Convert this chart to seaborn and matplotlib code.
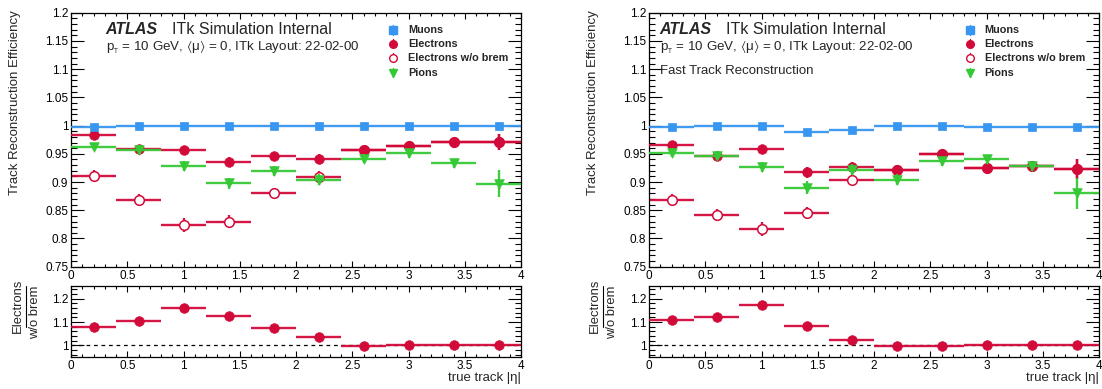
import numpy as np
import pandas as pd
import matplotlib
matplotlib.use("Agg")
import matplotlib.pyplot as plt
import seaborn as sns
from matplotlib.ticker import MultipleLocator, FormatStrFormatter
from matplotlib.lines import Line2D

# ---------------- data ----------------
eta_centers = [0.2, 0.6, 1.0, 1.4, 1.8, 2.2, 2.6, 3.0, 3.4, 3.8]
eta_halfwidth = [0.2] * 10

# left: default reconstruction
muons_L = [0.998, 1.0, 1.0, 1.0, 1.0, 1.0, 1.0, 1.0, 1.0, 1.0]
muons_L_err = [0.001] * 10
ele_L = [0.984, 0.959, 0.956, 0.936, 0.946, 0.941, 0.957, 0.963, 0.971, 0.971]
ele_L_err = [0.004, 0.007, 0.008, 0.008, 0.008, 0.008, 0.006, 0.006, 0.006, 0.014]
nob_L = [0.911, 0.868, 0.824, 0.830, 0.880, 0.909, 0.957, 0.963, 0.971, 0.971]
nob_L_err = [0.010, 0.011, 0.012, 0.012, 0.010, 0.010, 0.007, 0.006, 0.006, 0.014]
pion_L = [0.962, 0.957, 0.928, 0.898, 0.920, 0.904, 0.941, 0.951, 0.933, 0.897]
pion_L_err = [0.006, 0.008, 0.009, 0.010, 0.009, 0.010, 0.008, 0.008, 0.008, 0.024]
ratio_L = [1.080, 1.106, 1.161, 1.128, 1.075, 1.035, 0.999, 1.0, 1.0, 1.0]
ratio_L_err = [0.008, 0.012, 0.015, 0.014, 0.011, 0.010, 0.007, 0.006, 0.006, 0.014]

# right: fast track reconstruction
muons_R = [0.997, 0.999, 1.0, 0.988, 0.993, 1.0, 1.0, 0.998, 0.997, 0.997]
muons_R_err = [0.001] * 10
ele_R = [0.965, 0.947, 0.958, 0.917, 0.927, 0.922, 0.950, 0.924, 0.928, 0.923]
ele_R_err = [0.006, 0.007, 0.007, 0.009, 0.009, 0.009, 0.007, 0.008, 0.008, 0.018]
nob_R = [0.868, 0.842, 0.817, 0.845, 0.904, 0.922, 0.950, 0.924, 0.928, 0.923]
nob_R_err = [0.011, 0.011, 0.012, 0.011, 0.009, 0.009, 0.007, 0.008, 0.008, 0.018]
pion_R = [0.952, 0.947, 0.927, 0.890, 0.922, 0.904, 0.937, 0.940, 0.928, 0.880]
pion_R_err = [0.008, 0.008, 0.009, 0.012, 0.010, 0.010, 0.008, 0.008, 0.008, 0.027]
ratio_R = [1.111, 1.122, 1.172, 1.085, 1.025, 0.999, 0.999, 1.0, 1.0, 1.0]
ratio_R_err = [0.011, 0.012, 0.014, 0.013, 0.009, 0.008, 0.006, 0.007, 0.007, 0.017]

legend_labels = ["Muons", "Electrons", "Electrons w/o brem", "Pions"]

# ---------------- style ----------------
sns.set_theme(style="ticks")
plt.rcParams["font.family"] = ["Liberation Sans", "DejaVu Sans"]
plt.rcParams["mathtext.fontset"] = "custom"
plt.rcParams["mathtext.rm"] = "Liberation Sans"
plt.rcParams["mathtext.it"] = "Liberation Sans:italic"
plt.rcParams["mathtext.fallback"] = "stixsans"

C_MU = "#3796f0"
C_EL = "#d20a3a"
C_PI = "#36c936"

W, H = 1102, 389
fig = plt.figure(figsize=(W / 100, H / 100), dpi=100)


def fx(px):
    return px / W


def fy(py):
    return 1 - py / H


def style_axes(ax, ymaj, ymin_loc):
    ax.xaxis.set_major_locator(MultipleLocator(0.5))
    ax.xaxis.set_minor_locator(MultipleLocator(0.1))
    ax.yaxis.set_major_locator(MultipleLocator(ymaj))
    ax.yaxis.set_minor_locator(MultipleLocator(ymin_loc))
    ax.xaxis.set_major_formatter(FormatStrFormatter("%g"))
    ax.yaxis.set_major_formatter(FormatStrFormatter("%g"))
    ax.tick_params(axis="both", which="both", direction="in", top=True, right=True,
                   labelsize=8.5, colors="black", width=0.8)
    ax.tick_params(axis="y", which="major", length=9.5, pad=2)
    ax.tick_params(axis="y", which="minor", length=4.5)
    ax.tick_params(axis="x", which="major", length=4.5, pad=2.5)
    ax.tick_params(axis="x", which="minor", length=2.5)
    for s in ax.spines.values():
        s.set_linewidth(0.9)
        s.set_color("black")
        s.set_visible(True)
    ax.set_xlim(0, 4)
    ax.set_xlabel("")
    ax.set_ylabel("")


def series(ax, y, yerr, color, marker, filled, size, z):
    df = pd.DataFrame({"eta": eta_centers, "eff": y})
    ax.errorbar(eta_centers, y, xerr=eta_halfwidth, yerr=yerr, fmt="none",
                ecolor=color, elinewidth=1.7, capsize=0, zorder=z, alpha=0.95)
    if filled:
        sns.scatterplot(data=df, x="eta", y="eff", ax=ax, marker=marker, s=size,
                        color=color, edgecolor=color, linewidth=0.5, zorder=z + 0.5, legend=False)
    else:
        sns.scatterplot(data=df, x="eta", y="eff", ax=ax, marker=marker, s=size,
                        facecolor="white", edgecolor=color, linewidth=1.1, zorder=z + 0.5, legend=False)


def panel(x0, muons, mu_e, ele, ele_e, nob, nob_e, pion, pion_e, ratio, ratio_e, fast):
    width = 450
    ax = fig.add_axes([fx(x0), fy(266.7), width / W, (266.7 - 12.7) / H])
    rax = fig.add_axes([fx(x0), fy(357), width / W, (357 - 286) / H])

    series(ax, nob, nob_e, C_EL, "o", False, 48, 2)
    series(ax, ele, ele_e, C_EL, "o", True, 48, 3)
    series(ax, pion, pion_e, C_PI, "v", True, 48, 4)
    series(ax, muons, mu_e, C_MU, "s", True, 40, 5)
    ax.set_ylim(0.75, 1.2)
    style_axes(ax, 0.05, 0.01)

    rax.axhline(1.0, color="black", lw=0.9, ls=(0, (3, 3)), zorder=1)
    series(rax, ratio, ratio_e, C_EL, "o", True, 48, 3)
    rax.set_ylim(0.95, 1.255)
    style_axes(rax, 0.1, 0.02)

    tx = 0.024 if fast else 0.077
    ax.text(tx, 0.918, "ATLAS", transform=ax.transAxes, fontsize=11.5, fontweight="bold",
            fontstyle="italic", va="baseline", ha="left")
    ax.text(tx + 0.148, 0.918, "ITk Simulation Internal", transform=ax.transAxes,
            fontsize=11.5, va="baseline", ha="left")
    ax.text(tx, 0.852,
            r"$\mathregular{p_{_T}}$ = 10 GeV, $\mathregular{\langle\mu\rangle}$ = 0, ITk Layout: 22-02-00",
            transform=ax.transAxes, fontsize=9.6, va="baseline", ha="left")
    if fast:
        ax.text(tx, 0.76, "Fast Track Reconstruction", transform=ax.transAxes,
                fontsize=9.5, va="baseline", ha="left")

    # legend (manual)
    mx = 0.716 if not fast else 0.713
    tx2 = mx + 0.033
    rows = [0.932, 0.878, 0.822, 0.764]
    styles = [(C_MU, "s", True), (C_EL, "o", True), (C_EL, "o", False), (C_PI, "v", True)]
    for lab, yy, (c, m, f) in zip(legend_labels, rows, styles):
        ax.plot([mx, mx], [yy - 0.018, yy + 0.018], color=c, lw=1.0, transform=ax.transAxes,
                clip_on=False)
        ax.plot([mx], [yy], marker=m, ms=5.5, color=c, mfc=(c if f else "white"), mec=c,
                mew=1.0, transform=ax.transAxes, clip_on=False, ls="none")
        ax.text(tx2, yy, lab, transform=ax.transAxes, fontsize=7.8, fontweight="bold",
                va="center", ha="left")

    rax.text(1.0, -0.215, "true track |η|", transform=rax.transAxes, ha="right", va="top",
             fontsize=9.5)
    return ax, rax


panel(71, muons_L, muons_L_err, ele_L, ele_L_err, nob_L, nob_L_err, pion_L, pion_L_err,
      ratio_L, ratio_L_err, False)
panel(649, muons_R, muons_R_err, ele_R, ele_R_err, nob_R, nob_R_err, pion_R, pion_R_err,
      ratio_R, ratio_R_err, True)

for xl in (15, 593):
    fig.text(fx(xl), fy(10), "Track Reconstruction Efficiency", rotation=90, ha="center",
             va="top", fontsize=9.5)

# ratio y-labels as a fraction: Electrons / w/o brem
for dx in (0, 577):
    fig.text(fx(18.3 + dx), fy(306), "Electrons", rotation=90, ha="center", va="center",
             fontsize=9.4)
    fig.text(fx(34.8 + dx), fy(312), "w/o brem", rotation=90, ha="center", va="center",
             fontsize=9.4)
    fig.add_artist(Line2D([fx(26.2 + dx), fx(26.2 + dx)], [fy(286), fy(327)], color="black",
                          lw=0.8, transform=fig.transFigure))

fig.savefig("out.png", dpi=100)
